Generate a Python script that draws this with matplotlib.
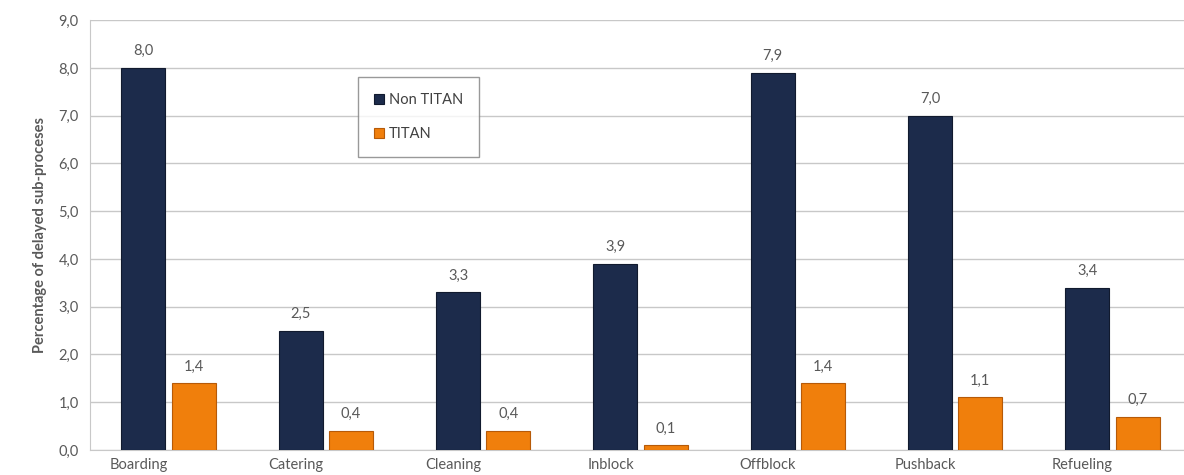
import matplotlib.pyplot as plt
import numpy as np

categories = ['Boarding', 'Catering', 'Cleaning', 'Inblock', 'Offblock', 'Pushback', 'Refueling']
non_titan = [8.0, 2.5, 3.3, 3.9, 7.9, 7.0, 3.4]
titan = [1.4, 0.4, 0.4, 0.1, 1.4, 1.1, 0.7]
yticks = [0, 1, 2, 3, 4, 5, 6, 7, 8, 9]

plt.rcParams['font.family'] = ['Lato', 'DejaVu Sans']

NAVY = '#1c2b4b'
ORANGE = '#f07f0c'
TEXT = '#595959'
GRID = '#c8c8c8'

fig = plt.figure(figsize=(11.84, 4.75), dpi=100)
ax = fig.add_axes([0.076, 0.0526, 0.924, 0.905])

x = np.arange(len(categories))
w = 0.28
b1 = ax.bar(x - 0.16, non_titan, w, color=NAVY, edgecolor='#111a2e', lw=0.8,
            label='Non TITAN', zorder=3)
b2 = ax.bar(x + 0.16, titan, w, color=ORANGE, edgecolor='#b65a08', lw=0.8,
            label='TITAN', zorder=3)

def fmt(v):
    return f'{v:.1f}'.replace('.', ',')

for bars, vals in [(b1, non_titan), (b2, titan)]:
    for r, v in zip(bars, vals):
        ax.annotate(fmt(v), (r.get_x() + r.get_width() / 2, v),
                    xytext=(0, 7), textcoords='offset points',
                    ha='center', va='bottom', fontsize=10.5, color=TEXT)

ax.set_xlim(-0.5, 6.455)
ax.set_ylim(0, 9)
ax.set_yticks(yticks)
ax.set_yticklabels([fmt(v) for v in yticks], fontsize=10.5, color=TEXT)
ax.set_xticks(x - 0.19)
ax.set_xticklabels(categories, fontsize=10.5, color=TEXT)
ax.tick_params(length=0, pad=8)
ax.tick_params(axis='x', pad=6)

ax.yaxis.grid(True, color=GRID, lw=1, zorder=0)
for s in ['top', 'right']:
    ax.spines[s].set_visible(False)
ax.spines['left'].set_color(GRID)
ax.spines['bottom'].set_color(GRID)

ax.set_ylabel('Percentage of delayed sub-proceses', fontsize=10.5,
              fontweight='bold', color=TEXT, labelpad=8)

leg = ax.legend(loc='upper left', bbox_to_anchor=(0.245, 0.868), fontsize=10.5,
                frameon=True, fancybox=False, edgecolor='#808080',
                handlelength=0.7, handleheight=0.7, handletextpad=0.3,
                labelspacing=1.4, borderpad=1.1, borderaxespad=0)
leg.get_frame().set_linewidth(1.0)
for t in leg.get_texts():
    t.set_color('#404040')
leg.set_zorder(5)

fig.savefig('out.png', dpi=100, facecolor='white')
